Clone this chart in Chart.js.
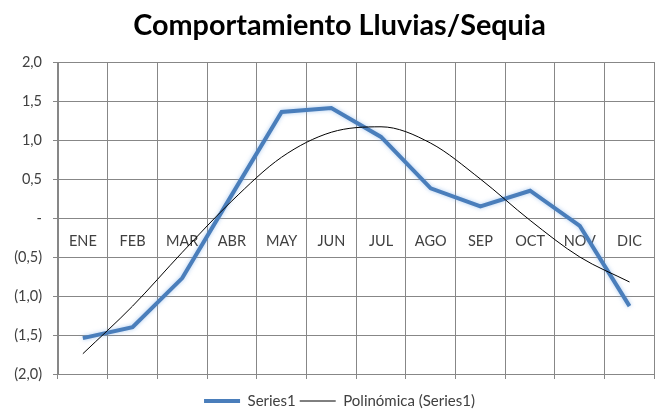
<!DOCTYPE html>
<html>
<head>
<meta charset="utf-8">
<script src="https://cdn.jsdelivr.net/npm/chart.js@4/dist/chart.umd.min.js"></script>
<style>
  html, body { margin: 0; padding: 0; background: #fff; }
  #wrap { width: 657px; height: 417px; }
</style>
</head>
<body>
<div id="wrap"><canvas id="chart" width="657" height="417"></canvas></div>
<script>
// months (category axis)
const months = ['ENE', 'FEB', 'MAR', 'ABR', 'MAY', 'JUN', 'JUL', 'AGO', 'SEP', 'OCT', 'NOV', 'DIC']
// Series1 values
const series1 = [-1.54, -1.40, -0.77, 0.30, 1.36, 1.41, 1.04, 0.38, 0.15, 0.35, -0.10, -1.13]
// polynomial trend line, read at each month
const trend = [-1.74, -1.13, -0.44, 0.22, 0.78, 1.10, 1.17, 0.96, 0.50, -0.03, -0.50, -0.82]
// y axis range
const yMin = -2
const yMax = 2
const yStep = 0.5

const gridColor = '#878787'
const textColor = '#404040'
const baseFont = 'Lato, "Open Sans", sans-serif'

// accounting style: 1,5 / - / (0,5)
function fmt(v) {
  if (Math.abs(v) < 1e-9) return '-'
  const s = Math.abs(v).toFixed(1).replace('.', ',')
  return v < 0 ? '(' + s + ')' : s
}

// soft glow on the blue line
const glow = {
  id: 'glow',
  beforeDatasetDraw(chart, args) {
    if (args.index !== 0) return
    const ctx = chart.ctx
    ctx.save()
    ctx.shadowColor = 'rgba(120, 170, 230, 0.6)'
    ctx.shadowBlur = 4
  },
  afterDatasetDraw(chart, args) {
    if (args.index !== 0) return
    chart.ctx.restore()
  }
}

// y labels hang into the left padding; widen the label clip box to the canvas edge
const widenY = {
  id: 'widenY',
  afterLayout(chart) {
    chart.scales.y.left = 0
  }
}

new Chart(document.getElementById('chart').getContext('2d'), {
  type: 'line',
  data: {
    labels: months,
    datasets: [{
      label: 'Series1',
      data: series1,
      borderColor: '#4a7ebb',
      backgroundColor: '#4a7ebb',
      borderWidth: 4,
      pointRadius: 0,
      tension: 0,
      order: 1,
      pointStyle: 'line'
    }, {
      label: 'Polinómica (Series1)',
      data: trend,
      borderColor: '#000000',
      backgroundColor: '#000000',
      borderWidth: 1,
      pointRadius: 0,
      cubicInterpolationMode: 'monotone',
      order: 0,
      pointStyle: 'line'
    }]
  },
  options: {
    responsive: false,
    animation: false,
    // the original chart was wider than the picture, so its centre sits right of the middle
    layout: { padding: { left: 20, right: -2, top: 0, bottom: -1.5 } },
    plugins: {
      title: {
        display: true,
        text: 'Comportamiento Lluvias/Sequia',
        color: '#000',
        font: { family: baseFont, size: 28.8, weight: 'bold' },
        padding: { top: 8, bottom: 19.5 }
      },
      legend: {
        position: 'bottom',
        labels: {
          usePointStyle: true,
          pointStyleWidth: 36,
          boxHeight: 11,
          padding: 4,
          color: textColor,
          font: { family: baseFont, size: 15 },
          sort: (a, b) => a.datasetIndex - b.datasetIndex
        }
      },
      tooltip: { enabled: false }
    },
    scales: {
      x: {
        type: 'category',
        position: { y: 0 },
        offset: true,
        grid: { color: gridColor, offset: true, drawTicks: false },
        border: { color: gridColor },
        ticks: { color: textColor, padding: 15, font: { family: baseFont, size: 14.5 }, maxRotation: 0 }
      },
      x2: {
        type: 'category',
        position: 'bottom',
        offset: true,
        grid: { color: gridColor, offset: true, drawOnChartArea: false, tickLength: 5 },
        border: { display: false },
        ticks: { display: false },
        afterFit: scale => { scale.height = 15.5 }
      },
      y: {
        min: yMin,
        max: yMax,
        grid: { color: gridColor, tickLength: 5 },
        border: { color: gridColor },
        ticks: {
          stepSize: yStep,
          color: textColor,
          padding: 11,
          font: { family: baseFont, size: 14.5 },
          callback: v => fmt(v)
        },
        afterFit: scale => { scale.width = 38 }
      }
    }
  },
  plugins: [glow, widenY]
})
</script>
</body>
</html>
